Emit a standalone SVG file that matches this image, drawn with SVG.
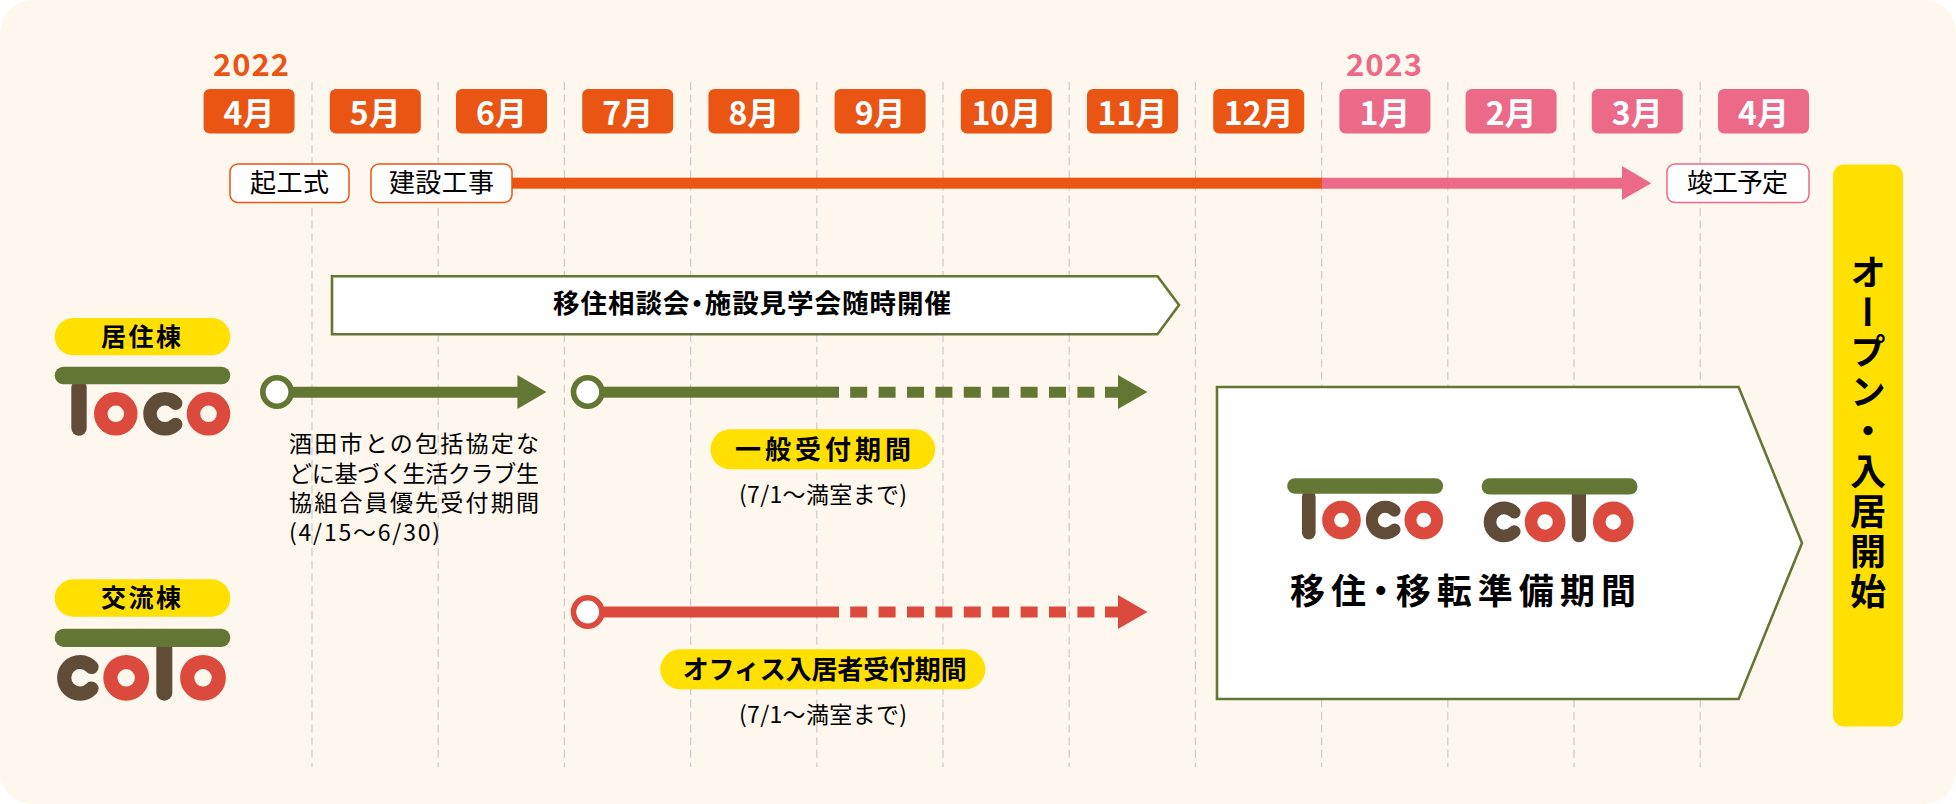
<svg xmlns="http://www.w3.org/2000/svg" width="1956" height="804" viewBox="0 0 1956 804">
<style>
text{font-family:"Noto Sans CJK JP","Noto Sans",sans-serif;fill:#000}
.mo{font-size:32px;font-weight:700;fill:#fff;text-anchor:middle}
.yr{font-size:31px;font-weight:700;text-anchor:middle}
.tag{font-size:26px;font-weight:400}
.b{font-weight:700}
.palt{font-feature-settings:"palt"}
.note{font-size:23px;font-weight:400}
.orange{fill:#ea5514}
.pink{fill:#ec6a87}
.green{fill:#647634}
.red{fill:#dc4a3d}
.yellow{fill:#ffe000}
.grid line{stroke:#cbcbcb;stroke-width:1.2;stroke-dasharray:8 4.6}
.box{fill:#fff;stroke-width:1.5}
.panel{fill:#fff;stroke:#647634;stroke-width:2.6}
.brown{fill:none;stroke:#614c38;stroke-width:13.5;stroke-linecap:round}
.ringr{fill:none;stroke:#dc4a3d;stroke-width:13.5}
.ringc{fill:none;stroke:#614c38;stroke-width:14.2;stroke-linecap:round}
.ringd{fill:none;stroke:#dc4a3d;stroke-width:14.2}
</style>
<defs>
<g id="toco">
<rect x="71.3" y="380" width="15.4" height="55.7" rx="7.7" fill="#614c38"/>
<rect x="54.7" y="366.7" width="175.6" height="17.5" rx="8.7" fill="#647634"/>
<circle class="ringr" cx="115.8" cy="413.8" r="15"/>
<path class="brown" d="M175.6 403.2A15 15 0 1 0 175.6 424.4"/>
<circle class="ringr" cx="208.5" cy="413.8" r="15"/>
</g>
<g id="coto">
<rect x="156.3" y="640" width="16" height="60.7" rx="8" fill="#614c38"/>
<rect x="54.7" y="628.7" width="175.6" height="18.3" rx="9" fill="#647634"/>
<path class="ringc" d="M91.5 667A15.8 15.8 0 1 0 91.5 688.6"/>
<circle class="ringd" cx="126.2" cy="677.8" r="15.8"/>
<circle class="ringd" cx="203" cy="677.8" r="15.8"/>
</g>
</defs>
<rect id="background" width="1956" height="804" rx="32" fill="#fef7ed"/>
<g class="grid" id="grid">
<line x1="312" x2="312" y1="82" y2="767"/><line x1="438.2" x2="438.2" y1="82" y2="767"/><line x1="564.4" x2="564.4" y1="82" y2="767"/><line x1="690.6" x2="690.6" y1="82" y2="767"/><line x1="816.8" x2="816.8" y1="82" y2="767"/><line x1="943" x2="943" y1="82" y2="767"/><line x1="1069.2" x2="1069.2" y1="82" y2="767"/><line x1="1195.4" x2="1195.4" y1="82" y2="767"/><line x1="1321.6" x2="1321.6" y1="82" y2="767"/><line x1="1447.8" x2="1447.8" y1="82" y2="767"/><line x1="1574" x2="1574" y1="82" y2="767"/><line x1="1700.2" x2="1700.2" y1="82" y2="767"/>
</g>
<g id="years">
<text class="yr orange" x="251" y="76" textLength="76">2022</text>
<text class="yr pink" x="1384" y="76" textLength="76">2023</text>
</g>
<g id="months">
<g id="m-2022-04"><rect class="orange" x="203.6" y="89" width="91" height="44.5" rx="6"/><text class="mo" x="249" y="125">4月</text></g>
<g id="m-2022-05"><rect class="orange" x="329.8" y="89" width="91" height="44.5" rx="6"/><text class="mo" x="375.3" y="125">5月</text></g>
<g id="m-2022-06"><rect class="orange" x="456" y="89" width="91" height="44.5" rx="6"/><text class="mo" x="501.5" y="125">6月</text></g>
<g id="m-2022-07"><rect class="orange" x="582.2" y="89" width="91" height="44.5" rx="6"/><text class="mo" x="627.7" y="125">7月</text></g>
<g id="m-2022-08"><rect class="orange" x="708.4" y="89" width="91" height="44.5" rx="6"/><text class="mo" x="753.9" y="125">8月</text></g>
<g id="m-2022-09"><rect class="orange" x="834.6" y="89" width="91" height="44.5" rx="6"/><text class="mo" x="880.1" y="125">9月</text></g>
<g id="m-2022-10"><rect class="orange" x="960.8" y="89" width="91" height="44.5" rx="6"/><text class="mo" x="1006.3" y="125">10月</text></g>
<g id="m-2022-11"><rect class="orange" x="1087" y="89" width="91" height="44.5" rx="6"/><text class="mo" x="1132.5" y="125">11月</text></g>
<g id="m-2022-12"><rect class="orange" x="1213.2" y="89" width="91" height="44.5" rx="6"/><text class="mo" x="1258.7" y="125">12月</text></g>
<g id="m-2023-01"><rect class="pink" x="1339.4" y="89" width="91" height="44.5" rx="6"/><text class="mo" x="1384.9" y="125">1月</text></g>
<g id="m-2023-02"><rect class="pink" x="1465.6" y="89" width="91" height="44.5" rx="6"/><text class="mo" x="1511.1" y="125">2月</text></g>
<g id="m-2023-03"><rect class="pink" x="1591.8" y="89" width="91" height="44.5" rx="6"/><text class="mo" x="1637.3" y="125">3月</text></g>
<g id="m-2023-04"><rect class="pink" x="1718" y="89" width="91" height="44.5" rx="6"/><text class="mo" x="1763.5" y="125">4月</text></g>
</g>
<g id="connectors">
<rect class="orange" x="512" y="177.7" width="810" height="11"/>
<path class="pink" d="M1322 177.7H1622V166L1651.3 183.2L1622 200V188.7H1322Z"/>
<g id="line-toco-priority">
<path class="green" d="M290 386.7H517.4V375L546.5 392L517.4 409V397.7H290Z"/>
<circle cx="277" cy="392" r="14.2" fill="#fff" stroke="#647634" stroke-width="5.6"/>
</g>
<g id="line-toco-general">
<rect class="green" x="600" y="386.7" width="239" height="11"/>
<path class="green" d="M850.2 386.7h17v11h-17zM878.6 386.7h17v11h-17zM907 386.7h17v11h-17zM935.4 386.7h17v11h-17zM963.8 386.7h17v11h-17zM992.2 386.7h17v11h-17zM1020.6 386.7h17v11h-17zM1049 386.7h17v11h-17zM1077.4 386.7h17v11h-17z"/>
<path class="green" d="M1105 386.7H1118V375L1147.4 392L1118 409V397.7H1105Z"/>
<circle cx="587.7" cy="392" r="14.2" fill="#fff" stroke="#647634" stroke-width="5.6"/>
</g>
<g id="line-coto-office">
<rect class="red" x="600" y="606.5" width="239" height="11"/>
<path class="red" d="M850.2 606.5h17v11h-17zM878.6 606.5h17v11h-17zM907 606.5h17v11h-17zM935.4 606.5h17v11h-17zM963.8 606.5h17v11h-17zM992.2 606.5h17v11h-17zM1020.6 606.5h17v11h-17zM1049 606.5h17v11h-17zM1077.4 606.5h17v11h-17z"/>
<path class="red" d="M1105 606.5H1118V595L1147.4 612L1118 629V617.5H1105Z"/>
<circle cx="587.7" cy="612" r="14.2" fill="#fff" stroke="#dc4a3d" stroke-width="5.6"/>
</g>
</g>
<g id="tag-kikoshiki"><rect class="box" x="230" y="164" width="119" height="38.5" rx="8" stroke="#ea5514"/><text class="tag" x="250" y="192" textLength="79">起工式</text></g>
<g id="tag-kensetsu"><rect class="box" x="371" y="164" width="141" height="38.5" rx="8" stroke="#ea5514"/><text class="tag" x="389" y="192" textLength="105">建設工事</text></g>
<g id="tag-shunko"><rect class="box" x="1667" y="164" width="142" height="38.5" rx="8" stroke="#ec6a87"/><text class="tag" x="1687" y="192" textLength="101">竣工予定</text></g>
<g id="banner-consult">
<path class="panel" d="M332 276.3H1157.5L1179 305L1157.5 334.3H332Z"/>
<text class="b palt" x="553" y="313" font-size="26.5" textLength="398">移住相談会・施設見学会随時開催</text>
</g>
<g id="node-toco">
<rect class="yellow" x="54.7" y="318" width="175.6" height="37.3" rx="18.6"/>
<text class="b" x="101" y="346" font-size="25" textLength="80">居住棟</text>
<use href="#toco"/>
</g>
<g id="node-coto">
<rect class="yellow" x="54.7" y="579.3" width="175.6" height="37.4" rx="18.7"/>
<text class="b" x="101" y="607" font-size="25" textLength="80">交流棟</text>
<use href="#coto"/>
</g>
<g id="note-priority">
<text class="note"><tspan x="289" y="452" textLength="250">酒田市との包括協定な</tspan><tspan x="289" y="481.5" textLength="250">どに基づく生活クラブ生</tspan><tspan x="289" y="511" textLength="250">協組合員優先受付期間</tspan><tspan x="289" y="540.5" textLength="151">(4/15〜6/30)</tspan></text>
</g>
<g id="label-general">
<rect class="yellow" x="710.4" y="429.3" width="224.8" height="40" rx="20"/>
<text class="b" x="735" y="459" font-size="26" textLength="176">一般受付期間</text>
<text class="note" x="739" y="503" textLength="168">(7/1〜満室まで)</text>
</g>
<g id="label-office">
<rect class="yellow" x="660.3" y="649.3" width="325" height="40" rx="20"/>
<text class="b" x="682.7" y="679" font-size="26" textLength="284">オフィス入居者受付期間</text>
<text class="note" x="739" y="723" textLength="168">(7/1〜満室まで)</text>
</g>
<g id="panel-prep">
<path class="panel" d="M1217 387H1738.6L1802 543L1738.6 699H1217Z"/>
<use href="#toco" transform="translate(1287.2 478.3) scale(.888) translate(-54.7 -366.7)"/>
<use href="#coto" transform="translate(1481.6 478.3) scale(.888) translate(-54.7 -628.7)"/>
<text class="b palt" x="1290" y="604" font-size="35" textLength="346">移住・移転準備期間</text>
</g>
<g id="node-open">
<rect class="yellow" x="1833" y="164.5" width="70" height="562" rx="11"/>
<text class="b" x="1868" y="254" font-size="36" letter-spacing="3.9" style="writing-mode:vertical-rl">オープン・入居開始</text>
</g>
</svg>
